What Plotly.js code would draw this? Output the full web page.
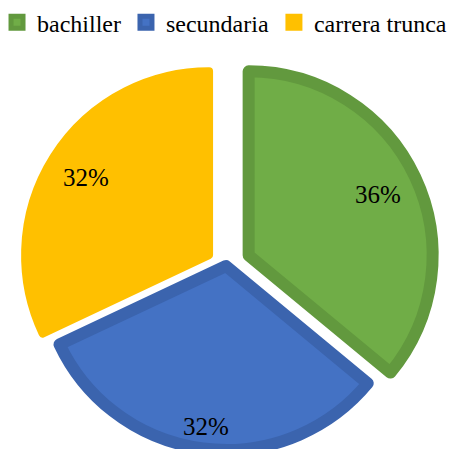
<!DOCTYPE html>
<html>
<head>
<meta charset="utf-8">
<script src="https://cdn.plot.ly/plotly-3.0.1.min.js"></script>
<style>
html, body { margin: 0; padding: 0; overflow: hidden; background: #fff; }
#chart { width: 456px; height: 475px; }
</style>
</head>
<body>
<div id="chart"></div>
<script>
// Data
const categories = ["bachiller", "secundaria", "carrera trunca"];
const values = [36, 32, 32];
// Styling
const fillColors = ["#70AD47", "#4472C4", "#FFC000"];
const borderColors = ["#62993E", "#3B64AE", "#FFC000"];
const borderWidths = [12, 12, 8];
const pulls = [0.136, 0, 0.109];
const labelRadius = [0.78, 0.88, 0.79]; // fraction of radius where percent labels sit

const W = 456, H = 475;
const M = { l: 0, r: 4, t: 57, b: 0 };
const FONT = "Liberation Serif, Times New Roman, serif";

// Pie geometry as Plotly lays it out (domain [0,1] x [0,1])
const gw = W - M.l - M.r, gh = H - M.t - M.b;
const maxPull = Math.max(...pulls);
const R = Math.min(gw, gh) / (2 + 2 * maxPull);
const cx = M.l + gw / 2, cy = M.t + gh / 2;
const total = values.reduce((a, b) => a + b, 0);

// Percent labels placed along each slice's bisector
const annotations = [];
let cum = 0;
values.forEach((v, i) => {
  const midFrac = (cum + v / 2) / total;
  cum += v;
  const ang = midFrac * 2 * Math.PI; // clockwise from 12 o'clock
  const dx = Math.sin(ang), dy = -Math.cos(ang);
  const dist = R * (pulls[i] + labelRadius[i]);
  const px = cx + dx * dist, py = cy + dy * dist;
  annotations.push({
    x: (px - M.l) / gw,
    y: 1 - (py - M.t) / gh,
    xref: "paper", yref: "paper",
    xanchor: "center", yanchor: "middle",
    showarrow: false,
    text: Math.round(v / total * 100) + "%",
    font: { family: FONT, size: 25, color: "#000000" }
  });
});

const trace = {
  type: "pie",
  labels: categories,
  values: values,
  sort: false,
  direction: "clockwise",
  rotation: 0,
  pull: pulls,
  textinfo: "none",
  marker: {
    colors: fillColors,
    line: { color: borderColors, width: borderWidths }
  },
  hoverinfo: "none"
};

const layout = {
  width: W,
  height: H,
  margin: { l: M.l, r: M.r, t: M.t, b: M.b, autoexpand: false },
  paper_bgcolor: "#ffffff",
  plot_bgcolor: "#ffffff",
  showlegend: true,
  annotations: annotations,
  legend: {
    orientation: "h",
    x: -0.0066,
    xanchor: "left",
    y: 1.136,
    yanchor: "top",
    traceorder: "normal",
    font: { family: FONT, size: 24, color: "#000000" },
    bgcolor: "rgba(0,0,0,0)"
  }
};

Plotly.newPlot("chart", [trace], layout, { displayModeBar: false, staticPlot: true });
</script>
</body>
</html>
